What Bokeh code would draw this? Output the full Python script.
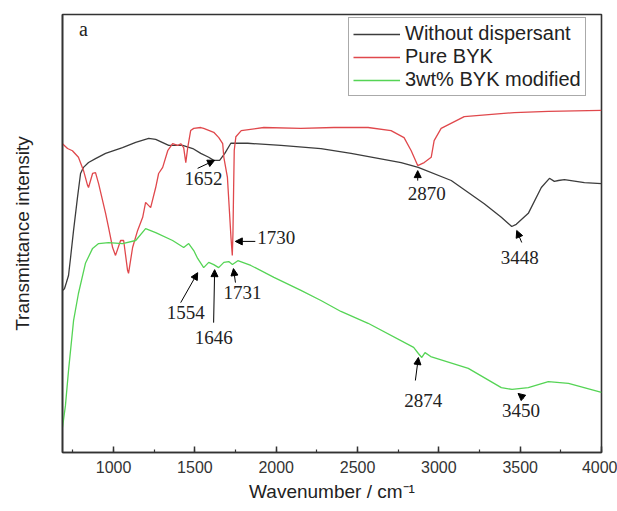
import numpy as np
from bokeh.plotting import figure
from bokeh.models import (Range1d, SingleIntervalTicker, FixedTicker, Legend, LegendItem,
                          Arrow, NormalHead, ColumnDataSource)
from bokeh.core.properties import value
from bokeh.embed import file_html
from bokeh.resources import INLINE

# ---------------- data (arbitrary transmittance units) ----------------
series_names = ["Without dispersant", "Pure BYK", "3wt% BYK modified"]

black_wn = [686, 698, 710, 723, 735, 754, 778, 797, 815, 846, 889, 951, 1055, 1136, 1216,
            1259, 1339, 1425, 1487, 1536, 1585, 1616, 1652, 1684, 1721, 1825, 2029, 2275,
            2460, 2768, 2873, 3076, 3279, 3384, 3427, 3448, 3476, 3550, 3630, 3680, 3710,
            3735, 3772, 3895, 4000]
black_t = [37.0, 37.4, 38.8, 40.4, 44.3, 50.7, 58.2, 63.7, 65.1, 66.2, 67.1, 68.3, 69.6, 70.8,
           71.7, 71.5, 70.1, 70.1, 69.4, 68.3, 67.4, 66.7, 66.7, 68.3, 70.6, 70.6, 70.1, 69.4,
           68.3, 66.2, 65.1, 62.1, 56.8, 53.7, 52.3, 51.6, 52.1, 54.6, 60.5, 62.6, 61.9, 62.1,
           62.3, 61.6, 61.4]

red_wn = [686, 717, 747, 784, 815, 840, 846, 871, 889, 908, 951, 969, 994, 1012, 1043, 1062,
          1086, 1092, 1117, 1148, 1179, 1197, 1228, 1259, 1277, 1302, 1333, 1363, 1394, 1413,
          1431, 1444, 1456, 1474, 1493, 1536, 1554, 1616, 1647, 1671, 1678, 1700, 1712, 1722,
          1730, 1734, 1738, 1742, 1752, 1785, 1924, 2152, 2355, 2565, 2706, 2786, 2830, 2870,
          2910, 2953, 2971, 3014, 3156, 3464, 3673, 4000]
red_t = [70.5, 69.4, 68.9, 67.4, 64.4, 61.0, 60.5, 63.7, 63.9, 61.4, 54.6, 51.4, 46.8, 45.0,
         48.4, 48.4, 41.6, 40.9, 46.8, 50.7, 53.7, 57.1, 55.9, 60.5, 63.7, 65.1, 68.9, 70.5,
         70.1, 70.5, 69.6, 66.2, 69.6, 73.5, 74.0, 74.2, 74.0, 73.1, 71.9, 70.5, 67.4, 62.8,
         55.3, 49.0, 45.0, 50.0, 60.0, 69.0, 72.1, 73.5, 74.2, 74.0, 74.2, 74.2, 73.5, 71.9,
         68.9, 65.5, 66.2, 67.4, 71.2, 74.0, 76.7, 77.6, 77.9, 78.1]

green_wn = [686, 704, 723, 754, 784, 827, 871, 908, 969, 1055, 1136, 1197, 1259, 1363, 1431,
            1462, 1493, 1517, 1554, 1585, 1616, 1646, 1678, 1708, 1731, 1764, 1844, 1986, 2152,
            2275, 2398, 2565, 2845, 2874, 2895, 2915, 2950, 3181, 3384, 3450, 3550, 3673, 3797,
            4000]
green_t = [5.7, 10.7, 18.7, 30.1, 36.3, 43.2, 46.6, 47.7, 47.9, 47.7, 48.4, 51.1, 50.2, 48.4,
           46.8, 47.7, 46.1, 44.3, 42.2, 43.4, 42.9, 42.2, 43.4, 43.6, 42.9, 43.8, 42.7, 40.0,
           37.0, 34.7, 32.2, 29.5, 24.0, 22.6, 21.7, 22.8, 21.9, 19.2, 14.8, 14.4, 14.8, 16.2,
           15.8, 13.7]

x_major_ticks_interval = 500

# peak annotations
peak_labels = ["1652", "1730", "1731", "1646", "1554", "2870", "3448", "2874", "3450"]
peak_wn = [1652, 1730, 1731, 1646, 1554, 2870, 3448, 2874, 3450]
peak_series = [0, 1, 2, 2, 2, 1, 0, 2, 2]

# ---------------- layout / style (screen px offsets from the peak point) ----------------
tip_dx = [-5, 3, 1, -4, -6, 0, 5, 0, 6]
tip_dy = [0, -14, 4, 2, 5, 5, 4, 4, 4]
tail_dx = [-22, 23, 3, -5, -23, 0, 10, -3, 12]
tail_dy = [8, -14, 18, 55, 35, 15, 16, 27, 9]
text_dx = [-16, 25, 10, -5, -18, 9, 8, 5, 9]
text_dy = [18, -18, 28, 70, 45, 28, 31, 47, 21]
text_align = ["center", "left", "center", "center", "center", "center", "center", "center", "center"]

W, H = 617, 511
BL, BR, BT, BB = 62, 16, 14, 59
X0, X1 = 686, 4000
Y0, Y1 = 0, 100
XPX = (W - BL - BR) / (X1 - X0)
YPX = (H - BT - BB) / (Y1 - Y0)

colors = ["#3c3c3c", "#e0484c", "#55d455"]
SANS = "Liberation Sans"
SERIF = "Liberation Serif"

p = figure(width=W, height=H, x_range=Range1d(X0, X1), y_range=Range1d(Y0, Y1),
           output_backend="svg", toolbar_location=None,
           min_border_left=BL, min_border_right=BR, min_border_top=BT, min_border_bottom=BB)
p.grid.visible = False
p.outline_line_color = "#333333"
p.outline_line_width = 1.6
p.background_fill_color = "white"
p.border_fill_color = "white"

# x axis
p.xaxis.ticker = SingleIntervalTicker(interval=x_major_ticks_interval, num_minor_ticks=2)
p.xaxis.major_tick_in = 6
p.xaxis.major_tick_out = 0
p.xaxis.minor_tick_in = 3
p.xaxis.minor_tick_out = 0
p.xaxis.axis_line_width = 1.6
p.xaxis.axis_line_color = "#333333"
p.xaxis.major_tick_line_color = "#333333"
p.xaxis.minor_tick_line_color = "#333333"
p.xaxis.major_tick_line_width = 1.5
p.xaxis.minor_tick_line_width = 1.2
p.xaxis.major_label_text_font = SANS
p.xaxis.major_label_text_font_size = "16px"
p.xaxis.major_label_text_color = "#333333"
p.xaxis.major_label_standoff = 8
p.xaxis.axis_label = "Wavenumber / cm\u207b\u00b9"
p.xaxis.axis_label_text_font = SANS
p.xaxis.axis_label_text_font_size = "19px"
p.xaxis.axis_label_text_font_style = "normal"
p.xaxis.axis_label_text_color = "#222222"
p.xaxis.axis_label_standoff = 5

# y axis (no ticks)
p.yaxis.ticker = FixedTicker(ticks=[])
p.yaxis.major_tick_out = 0
p.yaxis.major_tick_in = 0
p.yaxis.minor_tick_out = 0
p.yaxis.axis_line_width = 1.6
p.yaxis.axis_line_color = "#333333"
p.yaxis.axis_label = "Transmittance intensity"
p.yaxis.axis_label_text_font = SANS
p.yaxis.axis_label_text_font_size = "19px"
p.yaxis.axis_label_text_font_style = "normal"
p.yaxis.axis_label_text_color = "#222222"
p.yaxis.axis_label_standoff = 30

wns = [black_wn, red_wn, green_wn]
ts = [black_t, red_t, green_t]
renderers = []
for i in range(3):
    r = p.line(wns[i], ts[i], line_color=colors[i], line_width=1.3)
    renderers.append(r)

# annotations
tx, ty = [], []
for k in range(len(peak_labels)):
    s = peak_series[k]
    yk = float(np.interp(peak_wn[k], wns[s], ts[s]))
    xk = peak_wn[k]
    tx.append(xk)
    ty.append(yk)
    p.add_layout(Arrow(end=NormalHead(size=7, fill_color="black", line_color="black", line_width=1),
                       x_start=xk + tail_dx[k] / XPX, y_start=yk - tail_dy[k] / YPX,
                       x_end=xk + tip_dx[k] / XPX, y_end=yk - tip_dy[k] / YPX,
                       line_color="black", line_width=1))

src = ColumnDataSource(dict(x=tx, y=ty, text=peak_labels, dx=text_dx, dy=text_dy, align=text_align))
p.text(x="x", y="y", text="text", x_offset="dx", y_offset="dy", text_align="align",
       text_baseline="middle", text_font=value(SERIF), text_font_size="19px",
       text_color="#222222", source=src)

# panel letter
p.text(x=[X0], y=[Y1], text=["a"], x_offset=21, y_offset=14, text_align="center",
       text_baseline="middle", text_font=value(SERIF), text_font_size="20px", text_color="#222222")

legend = Legend(items=[LegendItem(label=series_names[i], renderers=[renderers[i]]) for i in range(3)],
                location=(286, 356), orientation="vertical",
                border_line_color="#555555", border_line_width=1,
                background_fill_color="white", background_fill_alpha=1.0,
                padding=4, spacing=0, margin=0, label_standoff=5,
                glyph_width=47, glyph_height=20, label_height=20,
                label_text_font=SANS, label_text_font_size="20px", label_text_color="#222222")
p.add_layout(legend)

open("out.html", "w").write(file_html(p, INLINE))
